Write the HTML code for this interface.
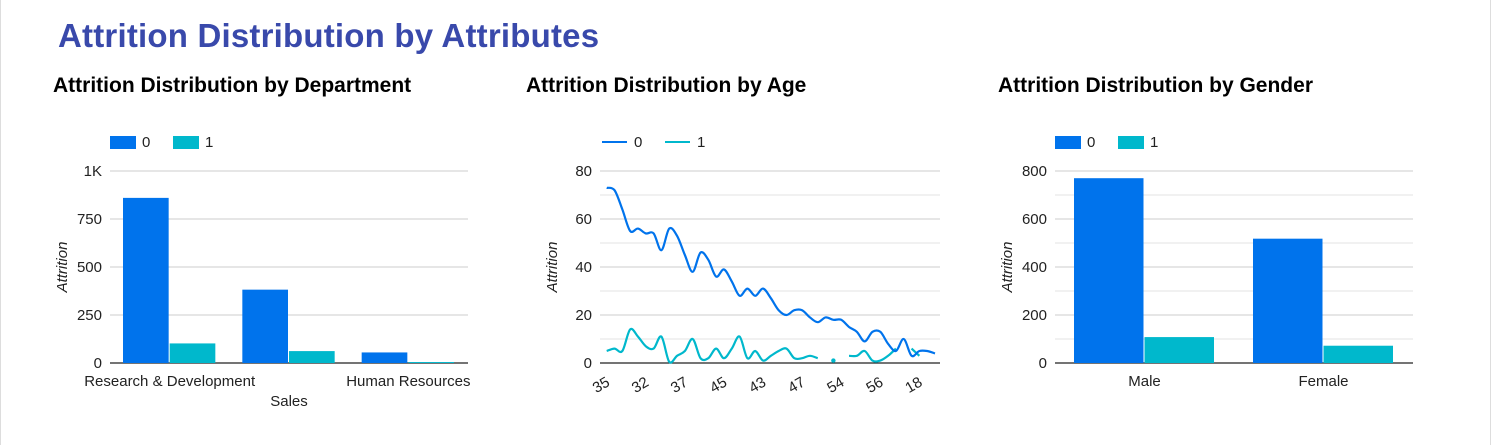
<!DOCTYPE html>
<html><head><meta charset="utf-8"><style>
body{margin:0;width:1502px;height:445px;background:#fff;overflow:hidden;font-family:"Liberation Sans",sans-serif;}
#frame{position:absolute;left:0;top:0;width:1489px;height:445px;border-left:1px solid #ddd;border-right:1px solid #ddd;}
h1{position:absolute;left:58px;top:17px;margin:0;font-size:33px;font-weight:bold;color:#3949ab;letter-spacing:0.2px;}
h2{position:absolute;top:74px;margin:0;font-size:21px;font-weight:bold;color:#000;}
svg{position:absolute;left:0;top:0;}
text{font-family:"Liberation Sans",sans-serif;font-size:15px;fill:#222;}
</style></head><body>
<div id="frame"></div>
<h1>Attrition Distribution by Attributes</h1>
<h2 style="left:53px">Attrition Distribution by Department</h2>
<h2 style="left:526px">Attrition Distribution by Age</h2>
<h2 style="left:998px">Attrition Distribution by Gender</h2>
<svg id="svg" width="1502" height="445"></svg>
<script>
const deptCats=["Research & Development","Sales","Human Resources"];
const dept0=[860,382,55];
const dept1=[102,62,5];
const deptTicks=[0,250,500,750,1000];
const deptTickLabels=["0","250","500","750","1K"];
const genderCats=["Male","Female"];
const gender0=[770,518];
const gender1=[108,72];
const genderTicks=[0,200,400,600,800];
const ageCats=[35,34,31,29,28,32,36,30,33,38,37,40,27,26,39,45,42,41,46,44,43,50,25,24,49,47,55,48,51,53,54,52,58,22,23,56,21,20,19,57,18,59,60];
const age0=[73,72,64,55,56,54,54,47,56,53,45,38,46,43,36,39,34,28,31,28,31,27,22,20,22,22,19,17,19,18,18,15,13,9,13,13,8,5,10,3,5,5,4];
const age1=[5,6,5,14,11,7,6,11,0.5,3,5,10,2,2,6,2,6,11,2,5,1,3,5,6,2,2,3,2,null,1,null,3,3,5,1,1,3,6,null,6,3,null,null];
const ageTicks=[0,20,40,60,80];

const svg=document.getElementById('svg');
const NS='http://www.w3.org/2000/svg';
function mk(tag,attrs,parent){const e=document.createElementNS(NS,tag);for(const k in attrs)e.setAttribute(k,attrs[k]);(parent||svg).appendChild(e);return e;}
const C0='#0073ec',C1='#00b8cc';
const Y0=363,YT=171;

function frame(x0,x1,max,ticks,labels,minor,name){
  const y=v=>Y0-(v/max)*(Y0-YT);
  const g=mk('g',{});
  
  
  if(minor){for(let v=minor;v<max;v+=minor){mk('line',{x1:x0,x2:x1,y1:y(v),y2:y(v),stroke:'#e3e3e3','stroke-width':1},g);}}
  ticks.forEach((v,i)=>{
    if(v>0)mk('line',{x1:x0,x2:x1,y1:y(v),y2:y(v),stroke:'#d6d6d6','stroke-width':1.2},g);
    const t=mk('text',{x:x0-8,y:y(v)+5,'text-anchor':'end'},g);t.textContent=labels?labels[i]:v;
  });
  mk('line',{x1:x0,x2:x1,y1:Y0,y2:Y0,stroke:'#222','stroke-width':1.2},g);
  const at=mk('text',{x:0,y:0,transform:`translate(${x0-43},267) rotate(-90)`,'text-anchor':'middle','font-style':'italic'},g);
  at.textContent='Attrition';
  
  
  return y;
}
function legend(x,line,name){
  [[C0,'0'],[C1,'1']].forEach((c,i)=>{
    const xx=x+i*63;
    const g=mk('g',{});
    
    
    if(line)mk('line',{x1:xx,x2:xx+25,y1:142,y2:142,stroke:c[0],'stroke-width':2},g);
    else mk('rect',{x:xx,y:136,width:26,height:13,fill:c[0]},g);
    const t=mk('text',{x:xx+32,y:147,'font-size':13},g);t.textContent=c[1];
  });
}
function bars(x0,x1,max,cats,s0,s1,pad,name,ticks,labels,minor,stagger){
  const y=frame(x0,x1,max,ticks,labels,minor,name);
  const gw=(x1-x0)/cats.length,bw=(gw-2*pad)/2;
  cats.forEach((c,i)=>{
    const gx=x0+i*gw+pad;
    const b0=mk('rect',{x:gx,y:y(s0[i]),width:bw-1,height:Y0-y(s0[i]),fill:C0});
    
    
    const b1=mk('rect',{x:gx+bw,y:y(s1[i]),width:bw-1,height:Y0-y(s1[i]),fill:C1});
    
    
    const cx=x0+(i+0.5)*gw;
    const t=mk('text',{x:cx,y:(stagger&&i%2==1)?406:386,'text-anchor':'middle'});
    t.textContent=c;
    
    
  });
}
bars(110,468,1000,deptCats,dept0,dept1,13,'department',deptTicks,deptTickLabels,0,true);
legend(110,false,'department');
bars(1055,1413,800,genderCats,gender0,gender1,19,'gender',genderTicks,null,100,false);
legend(1055,false,'gender');

const ax0=606.7,ax1=935,amax=80;
const ay=frame(600,940,amax,ageTicks,null,10,'age');
const ax=i=>ax0+i*(ax1-ax0)/(ageCats.length-1);
function smoothPath(pts){
  let d='M'+pts[0][0]+','+pts[0][1];
  for(let i=0;i<pts.length-1;i++){
    const p0=pts[i-1]||pts[i],p1=pts[i],p2=pts[i+1],p3=pts[i+2]||p2;
    const c1=[p1[0]+(p2[0]-p0[0])/6,p1[1]+(p2[1]-p0[1])/6];
    const c2=[p2[0]-(p3[0]-p1[0])/6,p2[1]-(p3[1]-p1[1])/6];
    d+=`C${c1[0]},${c1[1]} ${c2[0]},${c2[1]} ${p2[0]},${p2[1]}`;
  }
  return d;
}
function series(vals,color,name){
  let seg=[];const segs=[];
  vals.forEach((v,i)=>{if(v==null){if(seg.length)segs.push(seg);seg=[];}else seg.push([ax(i),ay(v)]);});
  if(seg.length)segs.push(seg);
  segs.forEach(s=>{
    if(s.length==1){const c=mk('circle',{cx:s[0][0],cy:s[0][1],r:2.2,fill:color});}
    else{const p=mk('path',{d:smoothPath(s),fill:'none',stroke:color,'stroke-width':2.2});}
  });
}
series(age1,C1,'age-series-1');
series(age0,C0,'age-series-0');
ageCats.forEach((c,i)=>{
  if(i%5!==0)return;
  const t=mk('text',{x:0,y:0,transform:`translate(${ax(i)+4},${385}) rotate(-30)`,'text-anchor':'end'});
  t.textContent=c;
  
  
});
legend(602,true,'age');
</script>
</body></html>
